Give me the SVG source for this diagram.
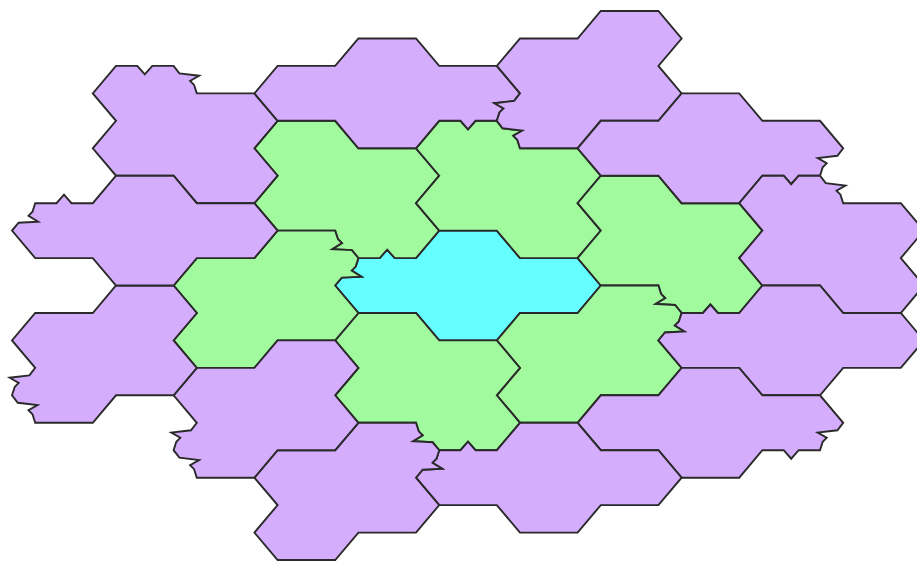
<svg xmlns="http://www.w3.org/2000/svg" width="917" height="561" viewBox="0 0 917 561">
<style>
.t{stroke:#2a2a2a;stroke-width:1.9;stroke-linejoin:miter}
.p{fill:#d5adfd}
.g{fill:#a1fa9e}
.c{fill:#66ffff}
</style>
<rect width="917" height="561" fill="#ffffff"/>
<g id="tiles">
<g id="center"><polygon class="t c" points="439.2,230.6 496.8,230.6 520,258.1 577.6,258.1 600.8,285.5 577.6,313 520,313 496.8,340.4 439.2,340.4 416,313 358.4,313 335.2,285.5 341.8,277.6 361.4,276.6 351.7,270.6 355.7,266.6 358.4,258.1 379.7,258.1 387.2,249.6 394.7,258.1 416,258.1"/></g>
<g id="g1"><polygon class="t g" points="277.6,120.8 335.2,120.8 358.4,148.3 416,148.3 439.2,175.7 416,203.2 439.2,230.6 416,258.1 394.7,258.1 387.2,249.6 379.7,258.1 358.4,258.1 351.8,250.1 332.2,249.1 341.9,243.1 337.9,239.1 335.2,230.6 277.6,230.6 254.4,203.2 277.6,175.7 254.4,148.3"/></g>
<g id="g2"><polygon class="t g" points="439.2,120.8 460.5,120.8 468,129.3 475.5,120.8 496.8,120.8 502.6,128.3 522.3,130.6 513.3,135.8 517.3,139.8 520,148.3 577.6,148.3 600.8,175.7 577.6,203.2 600.8,230.6 577.6,258.1 520,258.1 496.8,230.6 439.2,230.6 416,203.2 439.2,175.7 416,148.3"/></g>
<g id="g3"><polygon class="t g" points="600.8,175.7 658.4,175.7 681.6,203.2 739.2,203.2 762.4,230.6 739.2,258.1 762.4,285.5 739.2,313 717.9,313 710.4,304.5 702.9,313 681.6,313 675,305 655.4,304 665.1,298 661.1,294 658.4,285.5 600.8,285.5 577.6,258.1 600.8,230.6 577.6,203.2"/></g>
<g id="g4"><polygon class="t g" points="600.8,285.5 658.4,285.5 661.1,294 665.1,298 655.4,304 675,305 681.6,313 678.9,321.5 674.9,325.5 684.6,331.5 665,332.5 658.4,340.4 681.6,367.9 658.4,395.3 600.8,395.3 577.6,422.8 520,422.8 496.8,395.3 520,367.9 496.8,340.4 520,313 577.6,313"/></g>
<g id="g5"><polygon class="t g" points="358.4,313 416,313 439.2,340.4 496.8,340.4 520,367.9 496.8,395.3 520,422.8 496.8,450.2 475.5,450.2 468,441.7 460.5,450.2 439.2,450.2 432.6,442.3 413,441.3 422.7,435.3 418.7,431.3 416,422.8 358.4,422.8 335.2,395.3 358.4,367.9 335.2,340.4"/></g>
<g id="g6"><polygon class="t g" points="277.6,230.6 335.2,230.6 337.9,239.1 341.9,243.1 332.2,249.1 351.8,250.1 358.4,258.1 355.7,266.6 351.7,270.6 361.4,276.6 341.8,277.6 335.2,285.5 358.4,313 335.2,340.4 277.6,340.4 254.4,367.9 196.8,367.9 173.6,340.4 196.8,313 173.6,285.5 196.8,258.1 254.4,258.1"/></g>
<g id="p1"><polygon class="t p" points="116,65.9 137.3,65.9 144.8,74.4 152.3,65.9 173.6,65.9 179.4,73.4 199.1,75.7 190.1,80.9 194.1,84.9 196.8,93.4 254.4,93.4 277.6,120.8 254.4,148.3 277.6,175.7 254.4,203.2 196.8,203.2 173.6,175.7 116,175.7 92.8,148.3 116,120.8 92.8,93.4"/></g>
<g id="p2"><polygon class="t p" points="358.4,38.5 416,38.5 439.2,65.9 496.8,65.9 520,93.4 514.2,100.9 494.5,103.2 503.5,108.4 499.5,112.4 496.8,120.8 475.5,120.8 468,129.3 460.5,120.8 439.2,120.8 416,148.3 358.4,148.3 335.2,120.8 277.6,120.8 254.4,93.4 277.6,65.9 335.2,65.9"/></g>
<g id="p3"><polygon class="t p" points="600.8,11 658.4,11 681.6,38.5 658.4,65.9 681.6,93.4 658.4,120.8 600.8,120.8 577.6,148.3 520,148.3 517.3,139.8 513.3,135.8 522.3,130.6 502.6,128.3 496.8,120.8 499.5,112.4 503.5,108.4 494.5,103.2 514.2,100.9 520,93.4 496.8,65.9 520,38.5 577.6,38.5"/></g>
<g id="p4"><polygon class="t p" points="681.6,93.4 739.2,93.4 762.4,120.8 820,120.8 843.2,148.3 837.4,155.8 817.7,158.1 826.7,163.3 822.7,167.3 820,175.7 798.7,175.7 791.2,184.2 783.7,175.7 762.4,175.7 739.2,203.2 681.6,203.2 658.4,175.7 600.8,175.7 577.6,148.3 600.8,120.8 658.4,120.8"/></g>
<g id="p5"><polygon class="t p" points="762.4,175.7 783.7,175.7 791.2,184.2 798.7,175.7 820,175.7 825.8,183.2 845.5,185.5 836.5,190.7 840.5,194.7 843.2,203.2 900.8,203.2 924,230.6 900.8,258.1 924,285.5 900.8,313 843.2,313 820,285.5 762.4,285.5 739.2,258.1 762.4,230.6 739.2,203.2"/></g>
<g id="p6"><polygon class="t p" points="762.4,285.5 820,285.5 843.2,313 900.8,313 924,340.4 900.8,367.9 843.2,367.9 820,395.3 762.4,395.3 739.2,367.9 681.6,367.9 658.4,340.4 665,332.5 684.6,331.5 674.9,325.5 678.9,321.5 681.6,313 702.9,313 710.4,304.5 717.9,313 739.2,313"/></g>
<g id="p7"><polygon class="t p" points="681.6,367.9 739.2,367.9 762.4,395.3 820,395.3 843.2,422.8 837.4,430.3 817.7,432.6 826.7,437.8 822.7,441.8 820,450.2 798.7,450.2 791.2,458.7 783.7,450.2 762.4,450.2 739.2,477.7 681.6,477.7 658.4,450.2 600.8,450.2 577.6,422.8 600.8,395.3 658.4,395.3"/></g>
<g id="p8"><polygon class="t p" points="520,422.8 577.6,422.8 600.8,450.2 658.4,450.2 681.6,477.7 658.4,505.1 600.8,505.1 577.6,532.6 520,532.6 496.8,505.1 439.2,505.1 416,477.7 422.6,469.7 442.2,468.7 432.5,462.7 436.5,458.7 439.2,450.2 460.5,450.2 468,441.7 475.5,450.2 496.8,450.2"/></g>
<g id="p9"><polygon class="t p" points="358.4,422.8 416,422.8 418.7,431.3 422.7,435.3 413,441.3 432.6,442.3 439.2,450.2 436.5,458.7 432.5,462.7 442.2,468.7 422.6,469.7 416,477.7 439.2,505.1 416,532.6 358.4,532.6 335.2,560 277.6,560 254.4,532.6 277.6,505.1 254.4,477.7 277.6,450.2 335.2,450.2"/></g>
<g id="p10"><polygon class="t p" points="277.6,340.4 335.2,340.4 358.4,367.9 335.2,395.3 358.4,422.8 335.2,450.2 277.6,450.2 254.4,477.7 196.8,477.7 194.1,469.2 190.1,465.2 199.1,460 179.4,457.7 173.6,450.2 176.3,441.8 180.3,437.8 171.3,432.6 191,430.3 196.8,422.8 173.6,395.3 196.8,367.9 254.4,367.9"/></g>
<g id="p11"><polygon class="t p" points="116,285.5 173.6,285.5 196.8,313 173.6,340.4 196.8,367.9 173.6,395.3 116,395.3 92.8,422.8 35.2,422.8 32.5,414.3 28.5,410.3 37.5,405.1 17.8,402.8 12,395.3 14.7,386.9 18.7,382.9 9.7,377.7 29.4,375.4 35.2,367.9 12,340.4 35.2,313 92.8,313"/></g>
<g id="p12"><polygon class="t p" points="116,175.7 173.6,175.7 196.8,203.2 254.4,203.2 277.6,230.6 254.4,258.1 196.8,258.1 173.6,285.5 116,285.5 92.8,258.1 35.2,258.1 12,230.6 18.6,222.7 38.2,221.7 28.5,215.7 32.5,211.7 35.2,203.2 56.5,203.2 64,194.7 71.5,203.2 92.8,203.2"/></g>
</g>
</svg>
